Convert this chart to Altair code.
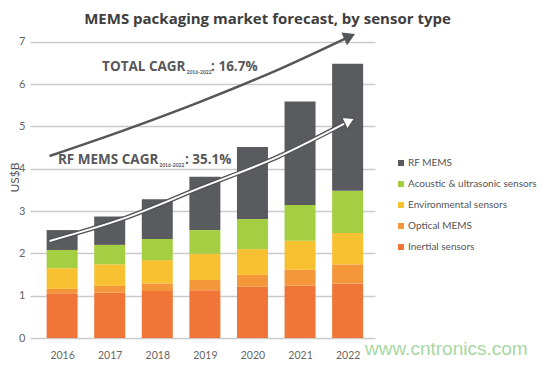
import altair as alt
import pandas as pd

# ---- data ----
years = [2016, 2017, 2018, 2019, 2020, 2021, 2022]
series = ["RF MEMS", "Acoustic & ultrasonic sensors", "Environmental sensors",
          "Optical MEMS", "Inertial sensors"]
colors = ["#5a5b5f", "#a5cf42", "#f8c132", "#f4973a", "#f07638"]
inertial = [1.06, 1.07, 1.11, 1.13, 1.21, 1.24, 1.29]
optical = [0.10, 0.16, 0.18, 0.24, 0.28, 0.37, 0.45]
environmental = [0.49, 0.51, 0.55, 0.62, 0.61, 0.69, 0.74]
acoustic = [0.43, 0.46, 0.50, 0.56, 0.71, 0.84, 1.00]
rf_mems = [0.47, 0.67, 0.94, 1.26, 1.70, 2.45, 3.00]

# trend arrows (x in fractional years, y in US$B)
total_arrow_x = [2015.736, 2017.267, 2018.899, 2020.532, 2022.042]
total_arrow_y = [4.30, 4.894, 5.579, 6.336, 7.123]
rf_arrow_x = [2015.736, 2017.267, 2018.899, 2020.532, 2022.042]
rf_arrow_y = [2.293, 2.813, 3.546, 4.279, 5.13]

y_ticks = [0, 1, 2, 3, 4, 5, 6, 7]

values_by_series = {
    "Inertial sensors": inertial,
    "Optical MEMS": optical,
    "Environmental sensors": environmental,
    "Acoustic & ultrasonic sensors": acoustic,
    "RF MEMS": rf_mems,
}
stack_order = ["Inertial sensors", "Optical MEMS", "Environmental sensors",
               "Acoustic & ultrasonic sensors", "RF MEMS"]

rows = []
for s in stack_order:
    for yr, v in zip(years, values_by_series[s]):
        rows.append({"year": yr, "value": v, "series": s, "idx": stack_order.index(s)})
bars_df = pd.DataFrame(rows)

total_df = pd.DataFrame({"year": total_arrow_x, "value": total_arrow_y})
rf_df = pd.DataFrame({"year": rf_arrow_x, "value": rf_arrow_y})
total_head = pd.DataFrame({"year": [total_arrow_x[-1]], "value": [total_arrow_y[-1]], "a": [66]})
rf_head = pd.DataFrame({"year": [rf_arrow_x[-1]], "value": [rf_arrow_y[-1]], "a": [64]})

labels_main = pd.DataFrame({
    "year": [2018.593, 2018.022],
    "value": [6.407, 4.208],
    "t": ["TOTAL CAGR", "RF MEMS CAGR"],
})
labels_sub = pd.DataFrame({
    "year": [2018.614, 2018.042],
    "value": [6.29, 4.09],
    "t": ["2016-2022", "2016-2022"],
})
labels_val = pd.DataFrame({
    "year": [2019.13, 2018.58],
    "value": [6.407, 4.208],
    "t": [": 16.7%", ": 35.1%"],
})

xscale = alt.Scale(domain=[2015.43, 2022.47], nice=False, zero=False)
yscale = alt.Scale(domain=[0, 7.3], nice=False)

X = alt.X("year:Q", scale=xscale,
          axis=alt.Axis(values=years, format="d", title=None, grid=False,
                        ticks=False, domain=False, labelPadding=12,
                        labelFontSize=10.5, labelColor="#666", labelFont="Lato"))
y_axis = alt.Axis(values=y_ticks, title="US$B", grid=True, gridColor="#cacaca",
                  gridWidth=1.5, ticks=False, domain=False, labelPadding=5,
                  labelFontSize=11, labelColor="#666", labelFont="Lato",
                  titleFont="Lato", titleFontSize=12, titleFontWeight="normal",
                  titleColor="#555", titleX=-15.5, titleY=148, titleAlign="center",
                  titleBaseline="middle", titleAngle=270)
Y = alt.Y("value:Q", scale=yscale, axis=y_axis)

bars = alt.Chart(bars_df).mark_bar(size=31).encode(
    x=X,
    y=alt.Y("value:Q", stack="zero", scale=yscale, axis=y_axis),
    color=alt.Color("series:N", scale=alt.Scale(domain=series, range=colors),
                    legend=alt.Legend(title=None, orient="none", legendX=366, legendY=129,
                                      symbolType="square", symbolSize=36,
                                      labelFont="Lato", labelFontSize=10,
                                      labelColor="#555", rowPadding=11,
                                      labelOffset=2, symbolStrokeWidth=0)),
    order=alt.Order("idx:Q"),
)

total_line = alt.Chart(total_df).mark_line(interpolate="monotone", color="#55565a",
                                           strokeWidth=2.5).encode(x=X, y=Y)
total_tip = alt.Chart(total_head).mark_point(shape="triangle-up", filled=True, size=190,
                                             color="#55565a", opacity=1).encode(
    x=X, y=Y, angle=alt.Angle("a:Q", scale=None))

rf_outline = alt.Chart(rf_df).mark_line(interpolate="monotone", color="#505155",
                                        strokeWidth=4.5).encode(x=X, y=Y)
rf_inner = alt.Chart(rf_df).mark_line(interpolate="monotone", color="#ffffff",
                                      strokeWidth=2).encode(x=X, y=Y)
rf_tip = alt.Chart(rf_head).mark_point(shape="triangle-up", filled=True, size=170,
                                       fill="#ffffff", stroke="#505155", strokeWidth=1.2,
                                       opacity=1).encode(
    x=X, y=Y, angle=alt.Angle("a:Q", scale=None))

txt_main = alt.Chart(labels_main).mark_text(align="right", baseline="middle",
                                            font="Open Sans", fontWeight="bold",
                                            fontSize=13.5, color="#58585a").encode(
    x=X, y=Y, text="t:N")
txt_sub = alt.Chart(labels_sub).mark_text(align="left", baseline="middle", font="Lato",
                                          fontWeight="bold", fontSize=5,
                                          color="#58585a").encode(
    x=X, y=Y, text="t:N")
txt_val = alt.Chart(labels_val).mark_text(align="left", baseline="middle",
                                          font="Open Sans", fontWeight="bold",
                                          fontSize=13.5, color="#58585a").encode(
    x=X, y=Y, text="t:N")

watermark = alt.Chart(pd.DataFrame({"t": ["www.cntronics.com"]})).mark_text(
    align="left", baseline="middle", font="Liberation Sans", fontSize=19,
    color="#a7d8a2").encode(x=alt.value(335), y=alt.value(320), text="t:N")

chart = alt.layer(
    bars, total_line, total_tip, rf_outline, rf_inner, rf_tip,
    txt_main, txt_sub, txt_val, watermark
).properties(
    width=345, height=309,
    background="#ffffff",
    autosize=alt.AutoSizeParams(type="none"),
    padding={"left": 22, "top": 21, "right": 167, "bottom": 22},
    title=alt.TitleParams(text="MEMS packaging market forecast, by sensor type",
                          font="Open Sans", fontSize=15, fontWeight="bold",
                          color="#3e3e3e", anchor="middle", dx=65, offset=2),
).configure_view(strokeWidth=0, stroke="transparent")

chart.save("out.html", embed_options={"renderer": "svg", "actions": False})
